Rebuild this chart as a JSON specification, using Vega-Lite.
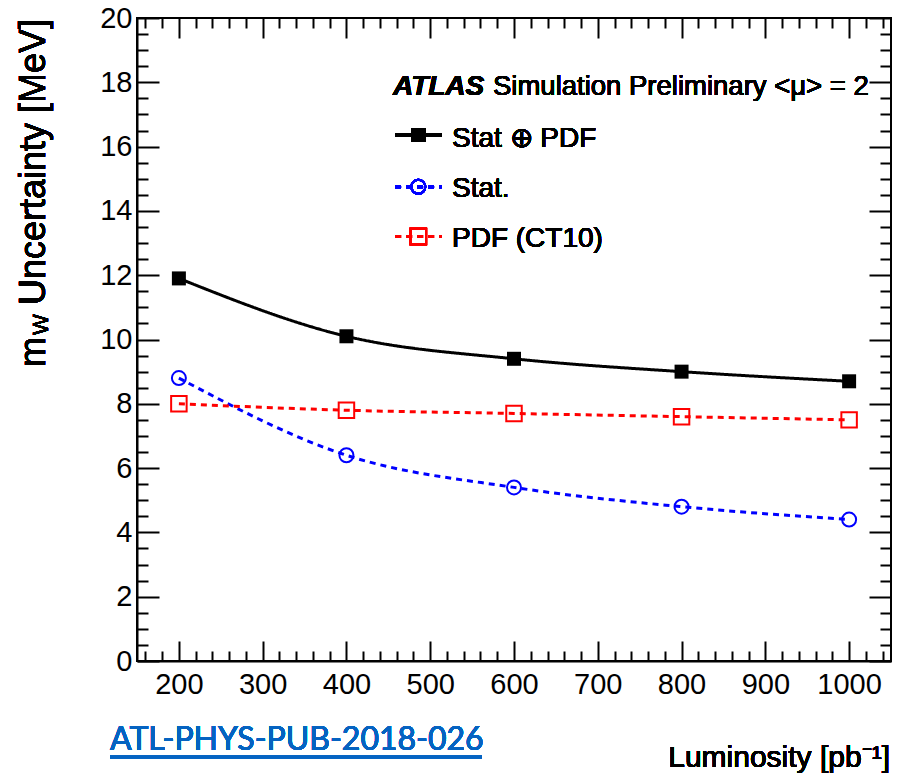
{
  "$schema": "https://vega.github.io/schema/vega-lite/v6.json",
  "width": 754,
  "height": 643,
  "autosize": {"type": "none"},
  "padding": {"left": 137, "top": 18, "right": 13, "bottom": 118},
  "background": "white",
  "config": {
    "view": {"stroke": "black", "strokeWidth": 2},
    "font": "Liberation Sans, Arial, sans-serif",
    "text": {"font": "Liberation Sans, Arial, sans-serif", "color": "black", "fontWeight": "normal"},
    "axis": {"labelFontWeight": "normal"}
  },
  "data": {
    "values": [
      {"lumi": 200, "series": "Stat ⊕ PDF", "value": 11.9},
      {"lumi": 400, "series": "Stat ⊕ PDF", "value": 10.1},
      {"lumi": 600, "series": "Stat ⊕ PDF", "value": 9.4},
      {"lumi": 800, "series": "Stat ⊕ PDF", "value": 9.0},
      {"lumi": 1000, "series": "Stat ⊕ PDF", "value": 8.7},
      {"lumi": 200, "series": "Stat.", "value": 8.8},
      {"lumi": 400, "series": "Stat.", "value": 6.4},
      {"lumi": 600, "series": "Stat.", "value": 5.4},
      {"lumi": 800, "series": "Stat.", "value": 4.8},
      {"lumi": 1000, "series": "Stat.", "value": 4.4},
      {"lumi": 200, "series": "PDF (CT10)", "value": 8.0},
      {"lumi": 400, "series": "PDF (CT10)", "value": 7.8},
      {"lumi": 600, "series": "PDF (CT10)", "value": 7.7},
      {"lumi": 800, "series": "PDF (CT10)", "value": 7.6},
      {"lumi": 1000, "series": "PDF (CT10)", "value": 7.5}
    ]
  },
  "resolve": {"axis": {"x": "independent", "y": "independent"}},
  "layer": [
    {
      "mark": {"type": "line", "interpolate": "monotone", "strokeWidth": 3},
      "encoding": {
        "x": {
          "field": "lumi", "type": "quantitative",
          "scale": {"domain": [150, 1050], "nice": false, "zero": false},
          "axis": {
            "orient": "bottom", "title": null, "grid": false,
            "values": [160,180,200,220,240,260,280,300,320,340,360,380,400,420,440,460,480,500,520,540,560,580,600,620,640,660,680,700,720,740,760,780,800,820,840,860,880,900,920,940,960,980,1000,1020,1040],
            "labelExpr": "datum.value % 100 === 0 ? format(datum.value, 'd') : ''",
            "tickSize": {"condition": {"test": "datum.value % 100 === 0", "value": -20}, "value": -10},
            "tickWidth": 2, "tickColor": "black",
            "domain": true, "domainWidth": 2, "domainColor": "black",
            "labelPadding": 29, "labelFontSize": 29, "labelColor": "black",
            "labelFont": "Liberation Sans, Arial, sans-serif",
            "labelFlush": false, "labelOverlap": false
          }
        },
        "y": {
          "field": "value", "type": "quantitative",
          "scale": {"domain": [0, 20], "nice": false, "zero": true},
          "axis": {
            "orient": "left", "title": null, "grid": false,
            "values": [0,0.5,1,1.5,2,2.5,3,3.5,4,4.5,5,5.5,6,6.5,7,7.5,8,8.5,9,9.5,10,10.5,11,11.5,12,12.5,13,13.5,14,14.5,15,15.5,16,16.5,17,17.5,18,18.5,19,19.5,20],
            "labelExpr": "datum.value % 2 === 0 ? format(datum.value, 'd') : ''",
            "tickSize": {"condition": {"test": "datum.value % 2 === 0", "value": -22}, "value": -11},
            "tickWidth": 2, "tickColor": "black",
            "domain": true, "domainWidth": 2, "domainColor": "black",
            "labelPadding": 27, "labelFontSize": 29, "labelColor": "black",
            "labelFont": "Liberation Sans, Arial, sans-serif",
            "labelFlush": false, "labelOverlap": false
          }
        },
        "color": {
          "field": "series", "type": "nominal",
          "scale": {"domain": ["Stat ⊕ PDF", "Stat.", "PDF (CT10)"], "range": ["#000000", "#0000ff", "#ff0000"]},
          "legend": null
        },
        "strokeDash": {
          "field": "series", "type": "nominal",
          "scale": {"domain": ["Stat ⊕ PDF", "Stat.", "PDF (CT10)"], "range": [[1, 0], [6, 5], [6, 5]]},
          "legend": null
        }
      }
    },
    {
      "transform": [{"filter": "datum.series === 'Stat ⊕ PDF'"}],
      "mark": {"type": "point", "shape": "square", "filled": true, "color": "black", "size": 196, "opacity": 1},
      "encoding": {
        "x": {
          "field": "lumi", "type": "quantitative",
          "axis": {
            "orient": "top", "title": null, "grid": false, "labels": false, "domain": false,
            "values": [160,180,200,220,240,260,280,300,320,340,360,380,400,420,440,460,480,500,520,540,560,580,600,620,640,660,680,700,720,740,760,780,800,820,840,860,880,900,920,940,960,980,1000,1020,1040],
            "tickSize": {"condition": {"test": "datum.value % 100 === 0", "value": -20}, "value": -10},
            "tickWidth": 2, "tickColor": "black"
          }
        },
        "y": {
          "field": "value", "type": "quantitative",
          "axis": {
            "orient": "right", "title": null, "grid": false, "labels": false, "domain": false,
            "values": [0,0.5,1,1.5,2,2.5,3,3.5,4,4.5,5,5.5,6,6.5,7,7.5,8,8.5,9,9.5,10,10.5,11,11.5,12,12.5,13,13.5,14,14.5,15,15.5,16,16.5,17,17.5,18,18.5,19,19.5,20],
            "tickSize": {"condition": {"test": "datum.value % 2 === 0", "value": -22}, "value": -11},
            "tickWidth": 2, "tickColor": "black"
          }
        }
      }
    },
    {
      "transform": [{"filter": "datum.series === 'Stat.'"}],
      "mark": {"type": "point", "shape": "circle", "filled": false, "color": "#0000ff", "size": 196, "strokeWidth": 2, "opacity": 1},
      "encoding": {
        "x": {"field": "lumi", "type": "quantitative", "axis": null},
        "y": {"field": "value", "type": "quantitative", "axis": null}
      }
    },
    {
      "transform": [{"filter": "datum.series === 'PDF (CT10)'"}],
      "mark": {"type": "point", "shape": "square", "filled": false, "color": "#ff0000", "size": 240, "strokeWidth": 2, "opacity": 1},
      "encoding": {
        "x": {"field": "lumi", "type": "quantitative", "axis": null},
        "y": {"field": "value", "type": "quantitative", "axis": null}
      }
    },
    {
      "mark": {"type": "text", "text": "ATLAS", "fontSize": 28, "fontWeight": "bold", "fontStyle": "italic", "align": "left", "baseline": "alphabetic"},
      "encoding": {
        "x": {"datum": 455.6, "type": "quantitative", "axis": null},
        "y": {"datum": 17.6, "type": "quantitative", "axis": null}
      }
    },
    {
      "mark": {"type": "text", "text": "Simulation Preliminary <μ> = 2", "fontSize": 27.5, "align": "left", "baseline": "alphabetic"},
      "encoding": {
        "x": {"datum": 574.9, "type": "quantitative", "axis": null},
        "y": {"datum": 17.6, "type": "quantitative", "axis": null}
      }
    },
    {
      "mark": {"type": "rule", "color": "black", "strokeWidth": 3},
      "encoding": {
        "x": {"datum": 458.0, "type": "quantitative", "axis": null},
        "x2": {"datum": 513.7},
        "y": {"datum": 16.36, "type": "quantitative", "axis": null}
      }
    },
    {
      "mark": {"type": "point", "shape": "square", "filled": true, "color": "black", "size": 196, "opacity": 1},
      "encoding": {
        "x": {"datum": 485.8, "type": "quantitative", "axis": null},
        "y": {"datum": 16.36, "type": "quantitative", "axis": null}
      }
    },
    {
      "mark": {"type": "text", "text": "Stat ⊕ PDF", "fontSize": 28, "align": "left", "baseline": "alphabetic"},
      "encoding": {
        "x": {"datum": 526.0, "type": "quantitative", "axis": null},
        "y": {"datum": 15.99, "type": "quantitative", "axis": null}
      }
    },
    {
      "mark": {"type": "rule", "color": "#0000ff", "strokeWidth": 3, "strokeDash": [6, 5]},
      "encoding": {
        "x": {"datum": 458.0, "type": "quantitative", "axis": null},
        "x2": {"datum": 513.7},
        "y": {"datum": 14.75, "type": "quantitative", "axis": null}
      }
    },
    {
      "mark": {"type": "point", "shape": "circle", "filled": false, "color": "#0000ff", "size": 196, "strokeWidth": 2, "opacity": 1},
      "encoding": {
        "x": {"datum": 485.8, "type": "quantitative", "axis": null},
        "y": {"datum": 14.75, "type": "quantitative", "axis": null}
      }
    },
    {
      "mark": {"type": "text", "text": "Stat.", "fontSize": 28, "align": "left", "baseline": "alphabetic"},
      "encoding": {
        "x": {"datum": 526.0, "type": "quantitative", "axis": null},
        "y": {"datum": 14.43, "type": "quantitative", "axis": null}
      }
    },
    {
      "mark": {"type": "rule", "color": "#ff0000", "strokeWidth": 3, "strokeDash": [6, 5]},
      "encoding": {
        "x": {"datum": 458.0, "type": "quantitative", "axis": null},
        "x2": {"datum": 513.7},
        "y": {"datum": 13.2, "type": "quantitative", "axis": null}
      }
    },
    {
      "mark": {"type": "point", "shape": "square", "filled": false, "color": "#ff0000", "size": 240, "strokeWidth": 2, "opacity": 1},
      "encoding": {
        "x": {"datum": 485.8, "type": "quantitative", "axis": null},
        "y": {"datum": 13.2, "type": "quantitative", "axis": null}
      }
    },
    {
      "mark": {"type": "text", "text": "PDF (CT10)", "fontSize": 28, "align": "left", "baseline": "alphabetic"},
      "encoding": {
        "x": {"datum": 526.0, "type": "quantitative", "axis": null},
        "y": {"datum": 12.88, "type": "quantitative", "axis": null}
      }
    },
    {
      "mark": {"type": "text", "text": "Luminosity [pb⁻¹]", "fontSize": 30, "align": "right", "baseline": "alphabetic"},
      "encoding": {
        "x": {"datum": 1048.8, "type": "quantitative", "axis": null},
        "y": {"datum": -3.297, "type": "quantitative", "axis": null}
      }
    },
    {
      "mark": {"type": "text", "text": "m", "fontSize": 36, "angle": 270, "align": "left", "baseline": "alphabetic"},
      "encoding": {
        "x": {"datum": 40.2, "type": "quantitative", "axis": null},
        "y": {"datum": 9.145, "type": "quantitative", "axis": null}
      }
    },
    {
      "mark": {"type": "text", "text": "W", "fontSize": 22, "angle": 270, "align": "left", "baseline": "alphabetic"},
      "encoding": {
        "x": {"datum": 43.8, "type": "quantitative", "axis": null},
        "y": {"datum": 10.14, "type": "quantitative", "axis": null}
      }
    },
    {
      "mark": {"type": "text", "text": "Uncertainty [MeV]", "fontSize": 36, "angle": 270, "align": "left", "baseline": "alphabetic"},
      "encoding": {
        "x": {"datum": 40.2, "type": "quantitative", "axis": null},
        "y": {"datum": 11.07, "type": "quantitative", "axis": null}
      }
    },
    {
      "mark": {"type": "text", "text": "ATL-PHYS-PUB-2018-026", "font": "Lato", "fontSize": 32, "color": "#0563c1", "align": "left", "baseline": "alphabetic"},
      "encoding": {
        "x": {"datum": 117.8, "type": "quantitative", "axis": null},
        "y": {"datum": -2.768, "type": "quantitative", "axis": null}
      }
    },
    {
      "mark": {"type": "rule", "color": "#0563c1", "strokeWidth": 2.5},
      "encoding": {
        "x": {"datum": 117.8, "type": "quantitative", "axis": null},
        "x2": {"datum": 561.8},
        "y": {"datum": -2.986, "type": "quantitative", "axis": null}
      }
    }
  ]
}
